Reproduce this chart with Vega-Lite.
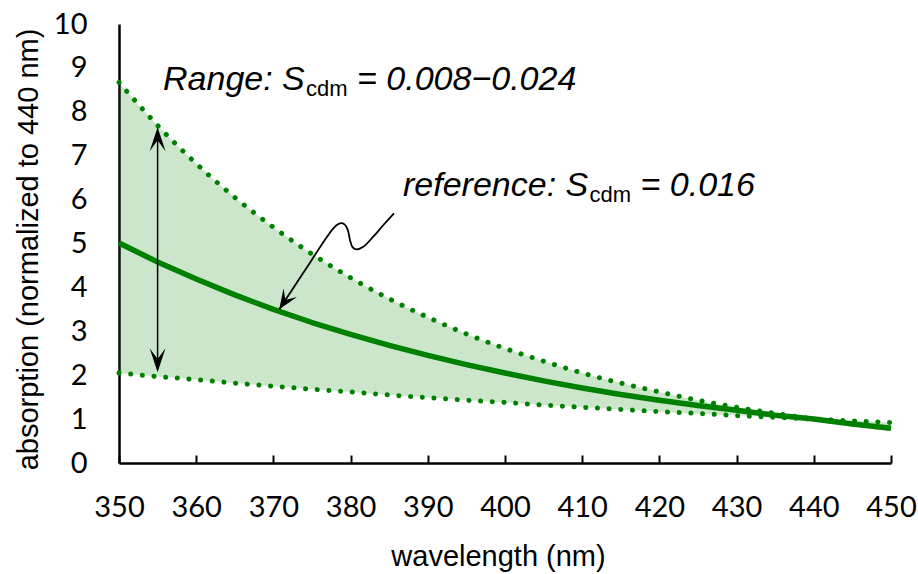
{
  "$schema": "https://vega.github.io/schema/vega-lite/v6.json",
  "width": 772,
  "height": 439,
  "autosize": {"type": "none"},
  "padding": {"left": 119, "top": 24, "right": 27, "bottom": 111},
  "background": "white",
  "config": {"view": {"stroke": null}, "axis": {"grid": false}},
  "datasets": {
    "curves": [
      {"wl": 350, "ref": 5.01, "upper": 8.67, "lower": 2.05},
      {"wl": 355, "ref": 4.58, "upper": 7.69, "lower": 1.97},
      {"wl": 360, "ref": 4.19, "upper": 6.82, "lower": 1.90},
      {"wl": 365, "ref": 3.83, "upper": 6.05, "lower": 1.82},
      {"wl": 370, "ref": 3.50, "upper": 5.37, "lower": 1.75},
      {"wl": 375, "ref": 3.20, "upper": 4.76, "lower": 1.68},
      {"wl": 380, "ref": 2.93, "upper": 4.22, "lower": 1.62},
      {"wl": 385, "ref": 2.68, "upper": 3.74, "lower": 1.55},
      {"wl": 390, "ref": 2.45, "upper": 3.32, "lower": 1.49},
      {"wl": 395, "ref": 2.24, "upper": 2.94, "lower": 1.43},
      {"wl": 400, "ref": 2.05, "upper": 2.61, "lower": 1.38},
      {"wl": 405, "ref": 1.87, "upper": 2.32, "lower": 1.32},
      {"wl": 410, "ref": 1.71, "upper": 2.05, "lower": 1.27},
      {"wl": 415, "ref": 1.56, "upper": 1.82, "lower": 1.22},
      {"wl": 420, "ref": 1.43, "upper": 1.62, "lower": 1.17},
      {"wl": 425, "ref": 1.31, "upper": 1.43, "lower": 1.13},
      {"wl": 430, "ref": 1.20, "upper": 1.27, "lower": 1.08},
      {"wl": 435, "ref": 1.09, "upper": 1.13, "lower": 1.04},
      {"wl": 440, "ref": 1.00, "upper": 1.00, "lower": 1.00},
      {"wl": 445, "ref": 0.89, "upper": 0.887, "lower": 0.961},
      {"wl": 450, "ref": 0.79, "upper": 0.787, "lower": 0.923}
    ],
    "squiggle": [
      {"i": 0, "wl": 385.62, "v": 5.688},
      {"i": 1, "wl": 384.24, "v": 5.421},
      {"i": 2, "wl": 382.94, "v": 5.155},
      {"i": 3, "wl": 381.65, "v": 4.927},
      {"i": 4, "wl": 380.79, "v": 4.868},
      {"i": 5, "wl": 380.27, "v": 4.913},
      {"i": 6, "wl": 379.92, "v": 5.080},
      {"i": 7, "wl": 379.70, "v": 5.269},
      {"i": 8, "wl": 379.40, "v": 5.399},
      {"i": 9, "wl": 378.98, "v": 5.460},
      {"i": 10, "wl": 378.41, "v": 5.444},
      {"i": 11, "wl": 377.76, "v": 5.346},
      {"i": 12, "wl": 376.90, "v": 5.141},
      {"i": 13, "wl": 373.83, "v": 4.321},
      {"i": 14, "wl": 370.76, "v": 3.501}
    ],
    "italicText": [
      {"wl": 355.70, "v": 8.497, "t": "Range: S"},
      {"wl": 380.83, "v": 8.497, "t": "= 0.008−0.024"},
      {"wl": 386.79, "v": 6.082, "t": "reference: S"},
      {"wl": 417.55, "v": 6.082, "t": "= 0.016"}
    ],
    "subText": [
      {"wl": 374.22, "v": 8.360, "t": "cdm"},
      {"wl": 410.95, "v": 5.945, "t": "cdm"}
    ]
  },
  "layer": [
    {
      "data": {"name": "curves"},
      "mark": {"type": "area", "color": "#008000", "opacity": 0.2, "interpolate": "monotone"},
      "encoding": {
        "x": {
          "field": "wl", "type": "quantitative", "title": "wavelength (nm)",
          "scale": {"domain": [350, 450], "nice": false, "zero": false},
          "axis": {
            "values": [350, 355, 360, 365, 370, 375, 380, 385, 390, 395, 400, 405, 410, 415, 420, 425, 430, 435, 440, 445, 450],
            "labelExpr": "datum.value % 10 === 0 ? datum.label : ''",
            "tickSize": -8, "tickWidth": 2, "tickColor": "#000",
            "labelPadding": 38, "labelFont": "Lato", "labelFontSize": 29, "labelColor": "#000",
            "labelFlush": false, "labelOverlap": false, "labelBound": false,
            "domainColor": "#000", "domainWidth": 2.5,
            "titleFont": "Liberation Sans", "titleFontSize": 29,
            "titleFontWeight": "normal", "titleColor": "#000",
            "titleX": 379, "titleY": 102, "titleBaseline": "alphabetic", "titleAlign": "center"
          }
        },
        "y": {
          "field": "upper", "type": "quantitative", "title": "absorption (normalized to 440 nm)",
          "scale": {"domain": [0, 10], "nice": false},
          "axis": {
            "values": [0, 1, 2, 3, 4, 5, 6, 7, 8, 9, 10],
            "ticks": false, "tickSize": 0, "labelPadding": 32,
            "labelFont": "Lato", "labelFontSize": 29, "labelColor": "#000",
            "labelFlush": false, "labelOverlap": false, "labelBound": false,
            "domainColor": "#000", "domainWidth": 2.5,
            "titleFont": "Liberation Sans", "titleFontSize": 29,
            "titleFontWeight": "normal", "titleColor": "#000",
            "titleX": -82, "titleY": 225, "titleBaseline": "alphabetic", "titleAngle": 270, "titleAlign": "center"
          }
        },
        "y2": {"field": "lower"}
      }
    },
    {
      "data": {"name": "curves"},
      "mark": {"type": "line", "color": "#008000", "strokeWidth": 5, "strokeCap": "round", "strokeDash": [0.1, 11.6], "interpolate": "monotone"},
      "encoding": {
        "x": {"field": "wl", "type": "quantitative", "title": "wavelength (nm)"},
        "y": {"field": "upper", "type": "quantitative", "title": "absorption (normalized to 440 nm)"}
      }
    },
    {
      "data": {"name": "curves"},
      "mark": {"type": "line", "color": "#008000", "strokeWidth": 5, "strokeCap": "round", "strokeDash": [0.1, 11.6], "interpolate": "monotone"},
      "encoding": {
        "x": {"field": "wl", "type": "quantitative", "title": "wavelength (nm)"},
        "y": {"field": "lower", "type": "quantitative", "title": "absorption (normalized to 440 nm)"}
      }
    },
    {
      "data": {"name": "curves"},
      "mark": {"type": "line", "color": "#008000", "strokeWidth": 5.5, "strokeJoin": "round"},
      "encoding": {
        "x": {"field": "wl", "type": "quantitative", "title": "wavelength (nm)"},
        "y": {"field": "ref", "type": "quantitative", "title": "absorption (normalized to 440 nm)"}
      }
    },
    {
      "data": {"values": [{"wl": 355, "v1": 2.2, "v2": 7.5}]},
      "mark": {"type": "rule", "color": "#000", "strokeWidth": 1.5},
      "encoding": {
        "x": {"field": "wl", "type": "quantitative", "title": "wavelength (nm)"},
        "y": {"field": "v1", "type": "quantitative", "title": "absorption (normalized to 440 nm)"},
        "y2": {"field": "v2"}
      }
    },
    {
      "data": {"name": "squiggle"},
      "mark": {"type": "line", "color": "#000", "strokeWidth": 1.8, "interpolate": "catmull-rom"},
      "encoding": {
        "x": {"field": "wl", "type": "quantitative", "title": "wavelength (nm)"},
        "y": {"field": "v", "type": "quantitative", "title": "absorption (normalized to 440 nm)"},
        "order": {"field": "i", "type": "quantitative"}
      }
    },
    {
      "data": {"values": [{"wl": 355, "v": 7.65}]},
      "mark": {"type": "point", "shape": "M0,0L0.33,1L0,0.55L-0.33,1Z", "size": 2304, "filled": true, "color": "#000", "opacity": 1, "strokeWidth": 0},
      "encoding": {
        "x": {"field": "wl", "type": "quantitative", "title": "wavelength (nm)"},
        "y": {"field": "v", "type": "quantitative", "title": "absorption (normalized to 440 nm)"}
      }
    },
    {
      "data": {"values": [{"wl": 355, "v": 2.07}]},
      "mark": {"type": "point", "shape": "M0,0L0.33,-1L0,-0.55L-0.33,-1Z", "size": 2304, "filled": true, "color": "#000", "opacity": 1, "strokeWidth": 0},
      "encoding": {
        "x": {"field": "wl", "type": "quantitative", "title": "wavelength (nm)"},
        "y": {"field": "v", "type": "quantitative", "title": "absorption (normalized to 440 nm)"}
      }
    },
    {
      "data": {"values": [{"wl": 370.76, "v": 3.501}]},
      "mark": {"type": "point", "shape": "M0,0L0.4,1L0,0.55L-0.4,1Z", "size": 1600, "angle": 213.4, "filled": true, "color": "#000", "opacity": 1, "strokeWidth": 0},
      "encoding": {
        "x": {"field": "wl", "type": "quantitative", "title": "wavelength (nm)"},
        "y": {"field": "v", "type": "quantitative", "title": "absorption (normalized to 440 nm)"}
      }
    },
    {
      "data": {"name": "italicText"},
      "mark": {"type": "text", "font": "Liberation Sans", "fontStyle": "italic", "fontSize": 34, "align": "left", "baseline": "alphabetic", "color": "#000"},
      "encoding": {
        "x": {"field": "wl", "type": "quantitative", "title": "wavelength (nm)"},
        "y": {"field": "v", "type": "quantitative", "title": "absorption (normalized to 440 nm)"},
        "text": {"field": "t"}
      }
    },
    {
      "data": {"name": "subText"},
      "mark": {"type": "text", "font": "Liberation Sans", "fontSize": 22, "align": "left", "baseline": "alphabetic", "color": "#000"},
      "encoding": {
        "x": {"field": "wl", "type": "quantitative", "title": "wavelength (nm)"},
        "y": {"field": "v", "type": "quantitative", "title": "absorption (normalized to 440 nm)"},
        "text": {"field": "t"}
      }
    }
  ]
}
